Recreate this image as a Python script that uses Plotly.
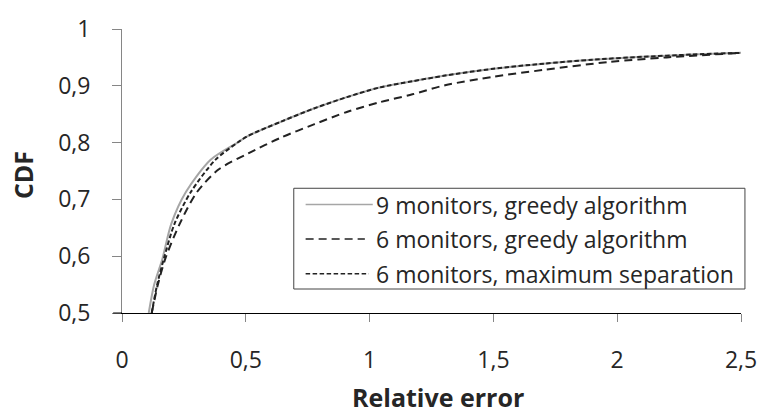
import plotly.graph_objects as go

# CDF of relative error for three monitor placements
x_9_greedy = [0.108, 0.13, 0.163, 0.199, 0.258, 0.358, 0.47, 0.51, 0.643, 0.775,
              0.908, 1.04, 1.173, 1.305, 1.50, 1.703, 1.90, 2.101, 2.30, 2.5]
y_9_greedy = [0.5, 0.55, 0.595, 0.657, 0.713, 0.770, 0.801, 0.812, 0.837, 0.860,
              0.880, 0.897, 0.908, 0.918, 0.930, 0.939, 0.946, 0.951, 0.955, 0.958]

x_6_greedy = [0.12, 0.145, 0.176, 0.233, 0.303, 0.391, 0.51, 0.643, 0.775, 0.908,
              1.04, 1.173, 1.305, 1.50, 1.703, 1.968, 2.2, 2.5]
y_6_greedy = [0.5, 0.55, 0.597, 0.657, 0.713, 0.753, 0.781, 0.809, 0.832, 0.854,
              0.871, 0.885, 0.901, 0.916, 0.928, 0.942, 0.950, 0.958]

x_6_maxsep = [0.12, 0.142, 0.17, 0.212, 0.278, 0.378, 0.47, 0.51, 0.643, 0.775,
              0.908, 1.04, 1.173, 1.305, 1.50, 1.703, 1.90, 2.101, 2.30, 2.5]
y_6_maxsep = [0.5, 0.55, 0.597, 0.657, 0.713, 0.770, 0.801, 0.812, 0.837, 0.860,
              0.880, 0.897, 0.908, 0.918, 0.930, 0.939, 0.946, 0.951, 0.955, 0.958]

x_ticks = [0, 0.5, 1, 1.5, 2, 2.5]
x_tick_text = ["0", "0,5", "1", "1,5", "2", "2,5"]
y_ticks = [0.5, 0.6, 0.7, 0.8, 0.9, 1.0]
y_tick_text = ["0,5", "0,6", "0,7", "0,8", "0,9", "1"]

series_names = ["9 monitors, greedy algorithm",
                "6 monitors, greedy algorithm",
                "6 monitors, maximum separation"]

FONT = "Open Sans"
TXT = "#262626"
GRAY = "#868686"
TICK_SIZE = 23
TITLE_SIZE = 25

W, H = 769, 415
L, R, T, B = 122, 20, 17, 102
PW, PH = W - L - R, H - T - B


def px(xp):
    return (xp - L) / PW


def py(yp):
    return (H - B - yp) / PH


styles = [
    dict(color="#a6a6a6", width=2, dash="solid"),
    dict(color="#222222", width=2, dash="8px,5px"),
    dict(color="#222222", width=2, dash="4.5px,2.5px"),
]

fig = go.Figure()
for xs, ys, name, st in zip([x_9_greedy, x_6_greedy, x_6_maxsep],
                            [y_9_greedy, y_6_greedy, y_6_maxsep],
                            series_names, styles):
    fig.add_trace(go.Scatter(x=xs, y=ys, mode="lines", name=name,
                             line=dict(shape="spline", smoothing=0.8, **st),
                             showlegend=False))

shapes = []
# short black extension of the horizontal axis to the left of the vertical axis
shapes.append(dict(type="line", xref="paper", yref="paper",
                   x0=px(113), x1=0, y0=0, y1=0,
                   line=dict(color="black", width=1)))
# legend box
shapes.append(dict(type="rect", xref="paper", yref="paper",
                   x0=px(296), x1=px(753), y0=py(183), y1=py(288),
                   line=dict(color="#444444", width=1), fillcolor="white",
                   layer="above"))
annotations = []
rows_y = [200, 236, 272]
line_ends = [376, 368, 372]
for name, st, ry, le in zip(series_names, styles, rows_y, line_ends):
    shapes.append(dict(type="line", xref="paper", yref="paper",
                       x0=px(308), x1=px(le), y0=py(ry), y1=py(ry),
                       line=dict(color=st["color"], width=1.5, dash=st["dash"]),
                       layer="above"))
    annotations.append(dict(xref="paper", yref="paper", x=px(377), y=py(ry),
                            xanchor="left", yanchor="middle", showarrow=False,
                            text=name, font=dict(family=FONT, size=TICK_SIZE, color=TXT)))

annotations.append(dict(xref="paper", yref="paper", x=px(442), y=py(401),
                        xanchor="center", yanchor="middle", showarrow=False,
                        text="<b>Relative error</b>",
                        font=dict(family=FONT, size=TITLE_SIZE, color=TXT)))
annotations.append(dict(xref="paper", yref="paper", x=px(22), y=py(169),
                        xanchor="center", yanchor="middle", showarrow=False,
                        textangle=-90, text="<b>CDF</b>",
                        font=dict(family=FONT, size=TITLE_SIZE, color=TXT)))

fig.update_layout(
    width=W, height=H,
    margin=dict(l=L, r=R, t=T, b=B, pad=0),
    paper_bgcolor="white", plot_bgcolor="white",
    font=dict(family=FONT, size=TICK_SIZE, color=TXT),
    shapes=shapes, annotations=annotations,
    xaxis=dict(range=[0, 2.5], tickmode="array", tickvals=x_ticks,
               ticktext=x_tick_text, showgrid=False, zeroline=False,
               showline=True, linecolor="black", linewidth=1,
               ticks="outside", ticklen=8, tickcolor=GRAY, tickwidth=1,
               ticklabelstandoff=18,
               tickfont=dict(family=FONT, size=TICK_SIZE, color=TXT)),
    yaxis=dict(range=[0.5, 1], tickmode="array", tickvals=y_ticks,
               ticktext=y_tick_text, showgrid=False, zeroline=False,
               showline=True, linecolor=GRAY, linewidth=1,
               ticks="outside", ticklen=9, tickcolor=GRAY, tickwidth=1,
               ticklabelstandoff=17,
               tickfont=dict(family=FONT, size=TICK_SIZE, color=TXT)),
)

fig.write_html("out.html")
